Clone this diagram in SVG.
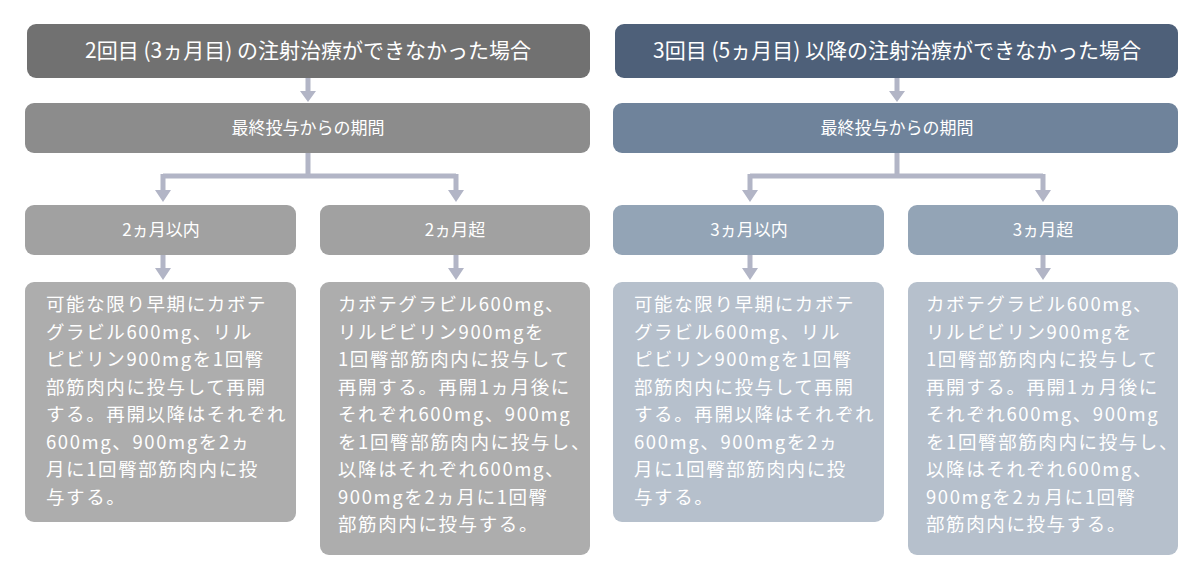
<svg xmlns="http://www.w3.org/2000/svg" width="1200" height="570" viewBox="0 0 1200 570">
<style>
text{font-family:"Noto Sans CJK JP","Noto Sans",sans-serif;fill:#fff}
.h{font-size:21px;text-anchor:middle}
.m{font-size:17px;text-anchor:middle}
.b{font-size:18.5px;letter-spacing:1.6px}
.c{stroke:#b2b5c6;stroke-width:5;fill:none}
.a{fill:#b2b5c6}
</style>
<rect width="1200" height="570" fill="#fff"/>
<g id="connectors">
<path class="c" d="M308 78V92M308 153V176M163 176H456M163 174V192M456 174V192M163 255V270M456 255V270"/>
<path class="a" d="M300 91H316L308 102ZM155 190H171L163 202ZM448 190H464L456 202ZM155 268H171L163 280ZM448 268H464L456 280Z"/>
<path class="c" d="M897 78V92M897 153V176M750 176H1043M750 174V192M1043 174V192M750 255V270M1043 255V270"/>
<path class="a" d="M889 91H905L897 102ZM742 190H758L750 202ZM1035 190H1051L1043 202ZM742 268H758L750 280ZM1035 268H1051L1043 280Z"/>
</g>
<g id="hL"><rect x="27" y="24" width="563" height="54" rx="9" fill="#717171"/><text class="h" x="308" y="58">2回目 (3ヵ月目) の注射治療ができなかった場合</text></g>
<g id="pL"><rect x="25" y="103" width="565" height="50" rx="9" fill="#8c8c8c"/><text class="m" x="308" y="134">最終投与からの期間</text></g>
<g id="l1"><rect x="25" y="205" width="271" height="50" rx="9" fill="#a1a1a1"/><text class="m" x="161" y="236">2ヵ月以内</text></g>
<g id="l2"><rect x="320" y="205" width="270" height="50" rx="9" fill="#a1a1a1"/><text class="m" x="455" y="236">2ヵ月超</text></g>
<g id="t1"><rect x="25" y="282" width="271" height="240" rx="9" fill="#adadad"/>
<text class="b"><tspan x="46" y="311">可能な限り早期にカボテ</tspan><tspan x="46" y="338.5">グラビル600mg、リル</tspan><tspan x="46" y="366">ピビリン900mgを1回臀</tspan><tspan x="46" y="393.5">部筋肉内に投与して再開</tspan><tspan x="46" y="421">する。再開以降はそれぞれ</tspan><tspan x="46" y="448.5">600mg、900mgを2ヵ</tspan><tspan x="46" y="476">月に1回臀部筋肉内に投</tspan><tspan x="46" y="503.5">与する。</tspan></text></g>
<g id="t2"><rect x="320" y="282" width="270" height="273" rx="9" fill="#adadad"/>
<text class="b"><tspan x="338" y="311">カボテグラビル600mg、</tspan><tspan x="338" y="338.5">リルピビリン900mgを</tspan><tspan x="338" y="366">1回臀部筋肉内に投与して</tspan><tspan x="338" y="393.5">再開する。再開1ヵ月後に</tspan><tspan x="338" y="421">それぞれ600mg、900mg</tspan><tspan x="338" y="448.5">を1回臀部筋肉内に投与し、</tspan><tspan x="338" y="476">以降はそれぞれ600mg、</tspan><tspan x="338" y="503.5">900mgを2ヵ月に1回臀</tspan><tspan x="338" y="531">部筋肉内に投与する。</tspan></text></g>
<g id="hR"><rect x="615" y="24" width="563" height="54" rx="9" fill="#4e6079"/><text class="h" x="897" y="58">3回目 (5ヵ月目) 以降の注射治療ができなかった場合</text></g>
<g id="pR"><rect x="613" y="103" width="565" height="50" rx="9" fill="#6f839b"/><text class="m" x="897" y="134">最終投与からの期間</text></g>
<g id="r1"><rect x="613" y="205" width="271" height="50" rx="9" fill="#93a4b6"/><text class="m" x="749" y="236">3ヵ月以内</text></g>
<g id="r2"><rect x="908" y="205" width="270" height="50" rx="9" fill="#93a4b6"/><text class="m" x="1043" y="236">3ヵ月超</text></g>
<g id="t3"><rect x="613" y="282" width="271" height="240" rx="9" fill="#b6c0cc"/>
<text class="b"><tspan x="634" y="311">可能な限り早期にカボテ</tspan><tspan x="634" y="338.5">グラビル600mg、リル</tspan><tspan x="634" y="366">ピビリン900mgを1回臀</tspan><tspan x="634" y="393.5">部筋肉内に投与して再開</tspan><tspan x="634" y="421">する。再開以降はそれぞれ</tspan><tspan x="634" y="448.5">600mg、900mgを2ヵ</tspan><tspan x="634" y="476">月に1回臀部筋肉内に投</tspan><tspan x="634" y="503.5">与する。</tspan></text></g>
<g id="t4"><rect x="908" y="282" width="270" height="273" rx="9" fill="#b6c0cc"/>
<text class="b"><tspan x="926" y="311">カボテグラビル600mg、</tspan><tspan x="926" y="338.5">リルピビリン900mgを</tspan><tspan x="926" y="366">1回臀部筋肉内に投与して</tspan><tspan x="926" y="393.5">再開する。再開1ヵ月後に</tspan><tspan x="926" y="421">それぞれ600mg、900mg</tspan><tspan x="926" y="448.5">を1回臀部筋肉内に投与し、</tspan><tspan x="926" y="476">以降はそれぞれ600mg、</tspan><tspan x="926" y="503.5">900mgを2ヵ月に1回臀</tspan><tspan x="926" y="531">部筋肉内に投与する。</tspan></text></g>
</svg>
